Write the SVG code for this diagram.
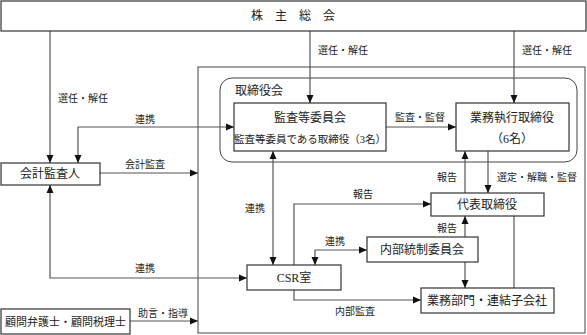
<svg xmlns="http://www.w3.org/2000/svg" width="587" height="335" viewBox="0 0 587 335">
<style>
.box{fill:#fff;stroke:#333;stroke-width:1.2}
.frame{fill:none;stroke:#444;stroke-width:1}
.c{fill:none;stroke:#555;stroke-width:1.2}
text{font-family:"Liberation Serif","Noto Sans CJK JP",serif;fill:#222}
.t{font-size:12px;text-anchor:middle}
.s{font-size:10.5px;text-anchor:middle}
.l{font-size:10px}
</style>
<defs>
<marker id="a" markerUnits="userSpaceOnUse" markerWidth="8" markerHeight="8" refX="8" refY="3.5" orient="auto-start-reverse" viewBox="0 0 8 7">
<path d="M0,0 L8,3.5 L0,7 z" fill="#111"/>
</marker>
</defs>
<rect x="198" y="67" width="387" height="266" class="frame"/>
<g id="board">
<rect x="220" y="78" width="357" height="84" rx="12" class="frame"/>
<text x="235" y="95" style="font-size:12px">取締役会</text>
</g>
<g id="connectors">
<path class="c" d="M50,31 V163" marker-end="url(#a)"/>
<path class="c" d="M310,31 V103" marker-end="url(#a)"/>
<path class="c" d="M514,31 V103" marker-end="url(#a)"/>
<path class="c" d="M78,163 V127 H234" marker-start="url(#a)" marker-end="url(#a)"/>
<path class="c" d="M100,173 H198" marker-end="url(#a)"/>
<path class="c" d="M386,127 H456" marker-end="url(#a)"/>
<path class="c" d="M273,151 V265" marker-start="url(#a)" marker-end="url(#a)"/>
<path class="c" d="M294,265 V204 H431" marker-end="url(#a)"/>
<path class="c" d="M465,193 V151" marker-end="url(#a)"/>
<path class="c" d="M488,151 V193" marker-end="url(#a)"/>
<path class="c" d="M315,265 V250 H367" marker-start="url(#a)" marker-end="url(#a)"/>
<path class="c" d="M465,237 V216" marker-end="url(#a)"/>
<path class="c" d="M465,262 V288" marker-end="url(#a)"/>
<path class="c" d="M514,216 V288"/>
<path class="c" d="M294,290 V300 H421" marker-end="url(#a)"/>
<path class="c" d="M50,185 V278 H247" marker-start="url(#a)" marker-end="url(#a)"/>
<path class="c" d="M130,321 H198" marker-end="url(#a)"/>
<text class="l" x="58" y="102">選任・解任</text>
<text class="l" x="318" y="54">選任・解任</text>
<text class="l" x="522" y="54">選任・解任</text>
<text class="l" x="135" y="123">連携</text>
<text class="l" x="125" y="168">会計監査</text>
<text class="l" x="395" y="121">監査・監督</text>
<text class="l" x="245" y="212">連携</text>
<text class="l" x="353" y="198">報告</text>
<text class="l" x="437" y="181">報告</text>
<text class="l" x="497" y="181">選定・解職・監督</text>
<text class="l" x="325" y="245">連携</text>
<text class="l" x="437" y="232">報告</text>
<text class="l" x="135" y="272">連携</text>
<text class="l" x="335" y="315">内部監査</text>
<text class="l" x="138" y="317">助言・指導</text>
</g>
<g id="shareholders">
<rect x="1" y="1" width="585" height="30" class="box"/>
<text class="t" x="293" y="20">株　主　総　会</text>
</g>
<g id="audit-committee">
<rect x="234" y="103" width="152" height="48" class="box"/>
<text class="t" x="310" y="122">監査等委員会</text>
<text class="s" x="310" y="143">監査等委員である取締役（3名）</text>
</g>
<g id="exec-directors">
<rect x="456" y="103" width="113" height="48" class="box"/>
<text class="t" x="512" y="122">業務執行取締役</text>
<text class="t" x="512" y="143">（6名）</text>
</g>
<g id="auditor">
<rect x="1" y="163" width="99" height="22" class="box"/>
<text class="t" x="50" y="178">会計監査人</text>
</g>
<g id="ceo">
<rect x="431" y="193" width="113" height="23" class="box"/>
<text class="t" x="487" y="209">代表取締役</text>
</g>
<g id="internal-control">
<rect x="367" y="237" width="111" height="25" class="box"/>
<text class="t" x="422" y="254">内部統制委員会</text>
</g>
<g id="csr">
<rect x="247" y="265" width="94" height="25" class="box"/>
<text class="t" x="294" y="282">CSR室</text>
</g>
<g id="business">
<rect x="421" y="288" width="133" height="25" class="box"/>
<text class="t" x="487" y="305">業務部門・連結子会社</text>
</g>
<g id="advisors">
<rect x="1" y="309" width="129" height="25" class="box"/>
<text class="t" x="65.5" y="325.5" style="font-size:11px">顧問弁護士・顧問税理士</text>
</g>
</svg>
